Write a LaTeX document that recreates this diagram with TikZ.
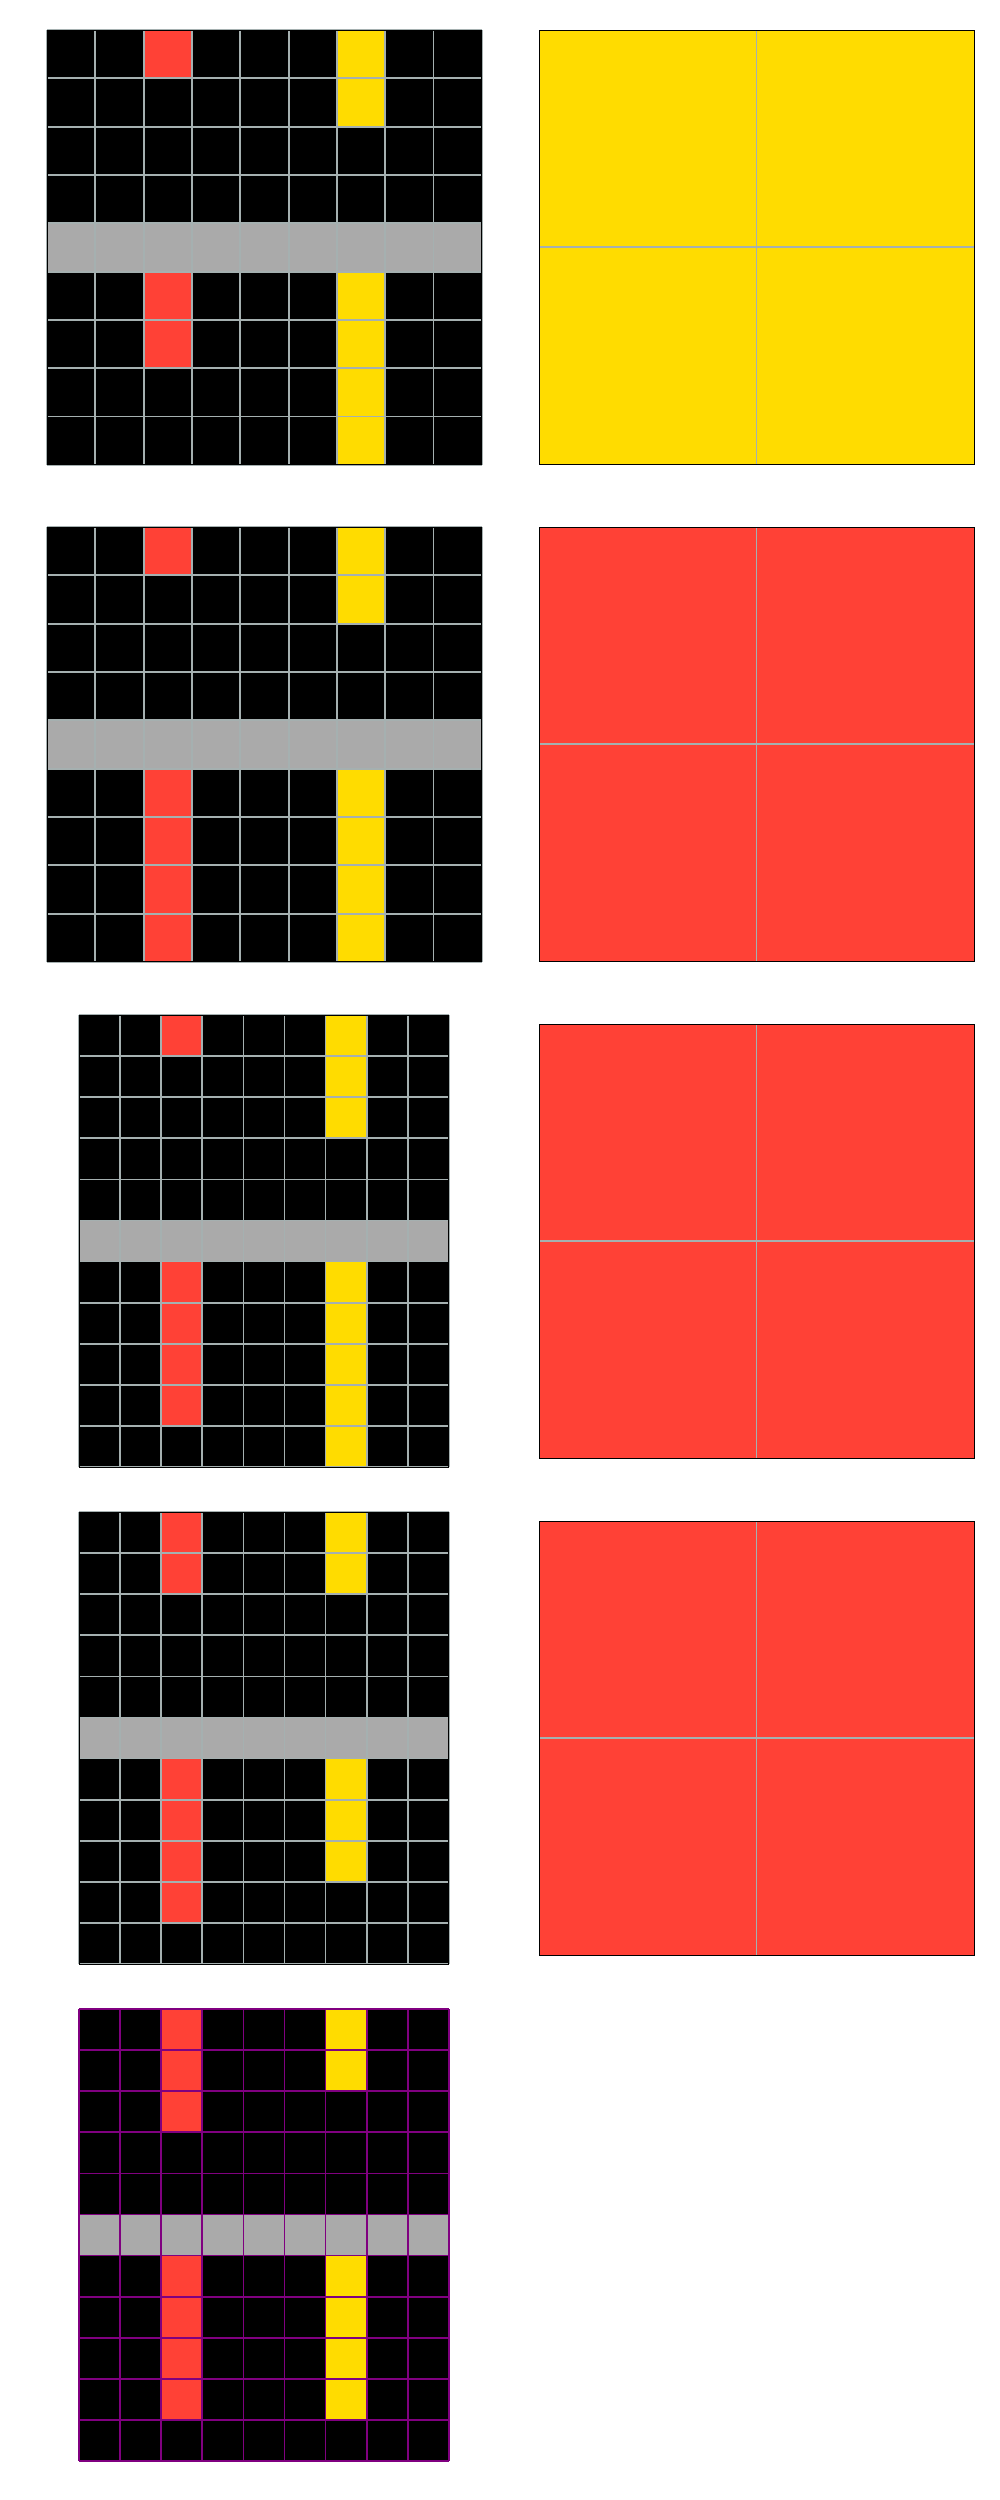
\documentclass[tikz,border=0pt]{standalone}
\usepackage{tikz}
\definecolor{arcred}{HTML}{FF4136}
\definecolor{arcyellow}{HTML}{FFDC00}
\definecolor{arcgrey}{HTML}{AAAAAA}
\definecolor{gridline}{HTML}{A5B0B0}
\definecolor{arcpurple}{HTML}{800080}

\begin{document}
\begin{tikzpicture}[x=1pt,y=-1pt,
	gridln/.style={draw=gridline,line width=1.7pt},
	purpleln/.style={draw=arcpurple,line width=1.7pt},
	frame/.style={draw=black,line width=1pt}]
	\useasboundingbox (0,0) rectangle (1000,2500);
	% first pair
	\begin{scope}[shift={(47,30)}]
		\def\cw{48.33}
		\fill[black] (0,0) rectangle (9*\cw,9*\cw);
		\fill[arcgrey] (0,4*\cw) rectangle (9*\cw,5*\cw);
		\foreach \r/\c/\k in {0/2/arcred,0/6/arcyellow,1/6/arcyellow,5/2/arcred,5/6/arcyellow,
			6/2/arcred,6/6/arcyellow,7/6/arcyellow,8/6/arcyellow}
			\fill[\k] (\c*\cw,\r*\cw) rectangle ++(\cw,\cw);
		\foreach \i in {0,...,9}{
			\draw[gridln] (\i*\cw,0) -- (\i*\cw,9*\cw);
			\draw[gridln] (0,\i*\cw) -- (9*\cw,\i*\cw);}
		\draw[frame] (0,0) rectangle (9*\cw,9*\cw);
	\end{scope}
	\begin{scope}[shift={(539,30)}]
		\fill[arcyellow] (0,0) rectangle (435,434);
		\draw[gridln] (217.5,0) -- (217.5,434) (0,217) -- (435,217);
		\draw[frame] (0,0) rectangle (435,434);
	\end{scope}
	% second pair
	\begin{scope}[shift={(47,527)}]
		\def\cw{48.33}
		\fill[black] (0,0) rectangle (9*\cw,9*\cw);
		\fill[arcgrey] (0,4*\cw) rectangle (9*\cw,5*\cw);
		\foreach \r/\c/\k in {0/2/arcred,0/6/arcyellow,1/6/arcyellow,5/2/arcred,5/6/arcyellow,
			6/2/arcred,6/6/arcyellow,7/2/arcred,7/6/arcyellow,8/2/arcred,8/6/arcyellow}
			\fill[\k] (\c*\cw,\r*\cw) rectangle ++(\cw,\cw);
		\foreach \i in {0,...,9}{
			\draw[gridln] (\i*\cw,0) -- (\i*\cw,9*\cw);
			\draw[gridln] (0,\i*\cw) -- (9*\cw,\i*\cw);}
		\draw[frame] (0,0) rectangle (9*\cw,9*\cw);
	\end{scope}
	\begin{scope}[shift={(539,527)}]
		\fill[arcred] (0,0) rectangle (435,434);
		\draw[gridln] (217.5,0) -- (217.5,434) (0,217) -- (435,217);
		\draw[frame] (0,0) rectangle (435,434);
	\end{scope}
	% third pair
	\begin{scope}[shift={(79,1015)}]
		\def\cw{41.1}
		\fill[black] (0,0) rectangle (9*\cw,11*\cw);
		\fill[arcgrey] (0,5*\cw) rectangle (9*\cw,6*\cw);
		\foreach \r/\c/\k in {0/2/arcred,0/6/arcyellow,1/6/arcyellow,2/6/arcyellow,
			6/2/arcred,6/6/arcyellow,7/2/arcred,7/6/arcyellow,8/2/arcred,8/6/arcyellow,
			9/2/arcred,9/6/arcyellow,10/6/arcyellow}
			\fill[\k] (\c*\cw,\r*\cw) rectangle ++(\cw,\cw);
		\foreach \i in {0,...,9}
			\draw[gridln] (\i*\cw,0) -- (\i*\cw,11*\cw);
		\foreach \i in {0,...,11}
			\draw[gridln] (0,\i*\cw) -- (9*\cw,\i*\cw);
		\draw[frame] (0,0) rectangle (9*\cw,11*\cw);
	\end{scope}
	\begin{scope}[shift={(539,1024)}]
		\fill[arcred] (0,0) rectangle (435,434);
		\draw[gridln] (217.5,0) -- (217.5,434) (0,217) -- (435,217);
		\draw[frame] (0,0) rectangle (435,434);
	\end{scope}
	% fourth pair
	\begin{scope}[shift={(79,1512)}]
		\def\cw{41.1}
		\fill[black] (0,0) rectangle (9*\cw,11*\cw);
		\fill[arcgrey] (0,5*\cw) rectangle (9*\cw,6*\cw);
		\foreach \r/\c/\k in {0/2/arcred,0/6/arcyellow,1/2/arcred,1/6/arcyellow,
			6/2/arcred,6/6/arcyellow,7/2/arcred,7/6/arcyellow,8/2/arcred,8/6/arcyellow,
			9/2/arcred}
			\fill[\k] (\c*\cw,\r*\cw) rectangle ++(\cw,\cw);
		\foreach \i in {0,...,9}
			\draw[gridln] (\i*\cw,0) -- (\i*\cw,11*\cw);
		\foreach \i in {0,...,11}
			\draw[gridln] (0,\i*\cw) -- (9*\cw,\i*\cw);
		\draw[frame] (0,0) rectangle (9*\cw,11*\cw);
	\end{scope}
	\begin{scope}[shift={(539,1521)}]
		\fill[arcred] (0,0) rectangle (435,434);
		\draw[gridln] (217.5,0) -- (217.5,434) (0,217) -- (435,217);
		\draw[frame] (0,0) rectangle (435,434);
	\end{scope}
	% last input, purple lines
	\begin{scope}[shift={(79,2009)}]
		\def\cw{41.1}
		\fill[black] (0,0) rectangle (9*\cw,11*\cw);
		\fill[arcgrey] (0,5*\cw) rectangle (9*\cw,6*\cw);
		\foreach \r/\c/\k in {0/2/arcred,0/6/arcyellow,1/2/arcred,1/6/arcyellow,2/2/arcred,
			6/2/arcred,6/6/arcyellow,7/2/arcred,7/6/arcyellow,8/2/arcred,8/6/arcyellow,
			9/2/arcred,9/6/arcyellow}
			\fill[\k] (\c*\cw,\r*\cw) rectangle ++(\cw,\cw);
		\foreach \i in {0,...,9}
			\draw[purpleln] (\i*\cw,0) -- (\i*\cw,11*\cw);
		\foreach \i in {0,...,11}
			\draw[purpleln] (0,\i*\cw) -- (9*\cw,\i*\cw);
	\end{scope}
\end{tikzpicture}
\end{document}
